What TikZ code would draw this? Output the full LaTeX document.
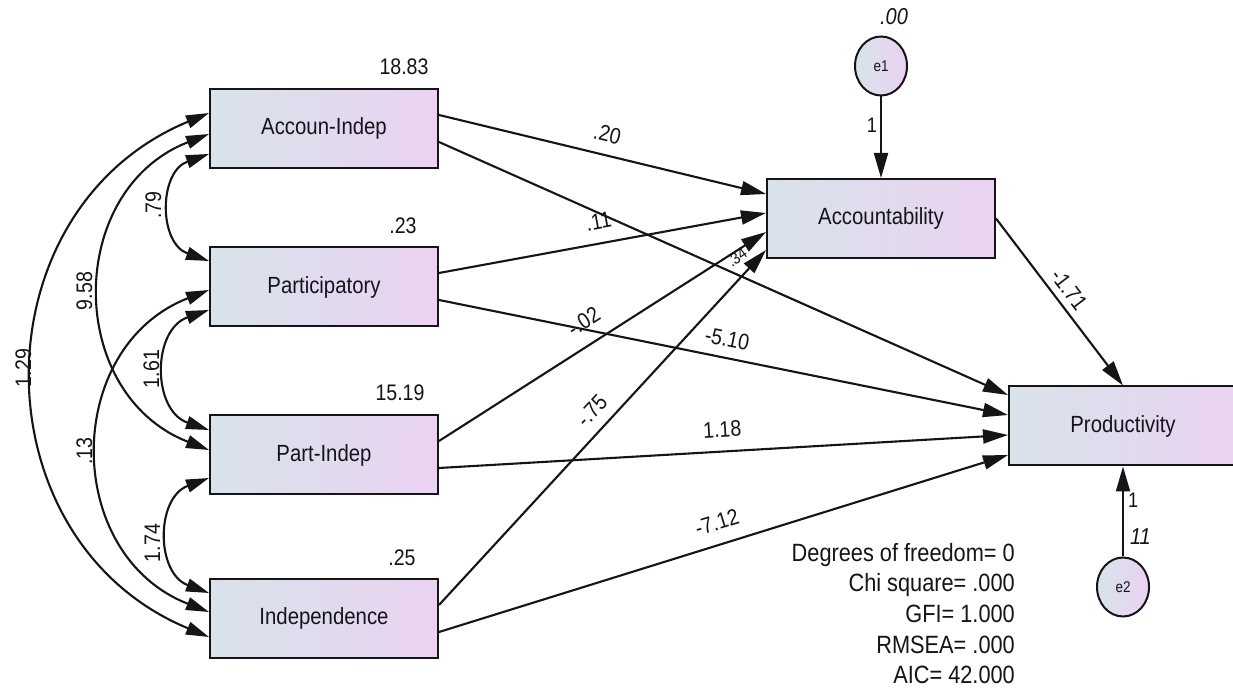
\documentclass[tikz,border=0pt]{standalone}
\usepackage{fontspec}
\setmainfont{Liberation Sans}[FakeStretch=0.87]
\usetikzlibrary{arrows.meta,shapes.geometric}
\definecolor{boxL}{RGB}{216,227,234}
\definecolor{boxR}{RGB}{234,210,241}
\definecolor{ink}{RGB}{20,20,25}
\begin{document}
\begin{tikzpicture}[x=1pt,y=1pt,
  varbox/.style={draw=ink,line width=2pt,left color=boxL,right color=boxR,minimum width=228pt,minimum height=79pt,inner sep=0pt,font=\fontsize{23.4}{28}\selectfont,text=ink},
  latent/.style={ellipse,draw=ink,line width=2pt,left color=boxL,right color=boxR,minimum width=52pt,minimum height=59pt,inner sep=0pt,font=\fontsize{15.5}{18}\selectfont,text=ink},
  num/.style={inner sep=0pt,font=\fontsize{22.5}{27}\selectfont,text height=16pt,text depth=0pt,text=ink},
  numit/.style={inner sep=0pt,font=\fontsize{23}{27}\selectfont\itshape,text height=16pt,text depth=0pt,text=ink},
  one/.style={inner sep=0pt,font=\fontsize{21}{25}\selectfont,text=ink},
  small/.style={inner sep=0pt,font=\fontsize{16.5}{19}\selectfont,text=ink},
  stat/.style={inner sep=0pt,anchor=base east,font=\fontsize{25}{30}\selectfont,text=ink},
  arr/.style={draw=ink,line width=2.1pt,-{Triangle[length=25pt,width=14pt]}},
  cov/.style={draw=ink,line width=2.1pt,{Triangle[length=23pt,width=13pt]}-{Triangle[length=23pt,width=13pt]}}
]
\useasboundingbox (0,0) rectangle (1233,693);
\fill[white] (0,0) rectangle (1233,693);

% observed variables
\node[varbox] (ai) at (324,564.5) {Accoun-Indep};
\node[varbox] (pa) at (324,406) {Participatory};
\node[varbox] (pi) at (324,238) {Part-Indep};
\node[varbox] (ind) at (324,74.5) {Independence};
\node[varbox] (acc) at (881,474.5) {Accountability};
\node[varbox] (prod) at (1123,267) {Productivity};
% error terms
\node[latent] (e1) at (881,627) {e1};
\node[latent] (e2) at (1123,106) {e2};

% variances
\node[num] (v1) at (404,626) {18.83};
\node[num] (v2) at (403,467) {.23};
\node[num] (v3) at (400,300) {15.19};
\node[num] (v4) at (402,135) {.25};
\node[numit] (v5) at (894,676) {.00};

% regression paths to Accountability
\draw[arr] ([yshift=13.5pt]ai.east) -- node[num,sloped,above=12pt] (w1) {.20} ([yshift=24.5pt]acc.west);
\draw[arr] ([yshift=14pt]pa.east) -- node[num,sloped,above=13pt] (w2) {.11} ([yshift=5.5pt]acc.west);
\draw[arr] ([yshift=14pt]pi.east) -- node[num,sloped,above=14pt,pos=0.48] (w3) {-.02} ([yshift=-13.5pt]acc.west);
\draw[arr] ([yshift=13.5pt]ind.east) -- node[num,sloped,above=10.5pt,pos=0.51] (w4) {-.75} ([yshift=-31.5pt]acc.west);
\node[small,rotate=35] (w5) at (737,436) {.34};

% regression paths to Productivity
\draw[arr] ([yshift=-13.5pt]ai.east) -- ([yshift=31pt]prod.west);
\draw[arr] ([yshift=-13pt]pa.east) -- node[num,sloped,above=10pt] (w6) {-5.10} ([yshift=11pt]prod.west);
\draw[arr] ([yshift=-13pt]pi.east) -- node[num,sloped,above=13.5pt] (w7) {1.18} ([yshift=-9pt]prod.west);
\draw[arr] ([yshift=-13.5pt]ind.east) -- node[num,sloped,above=13.5pt] (w8) {-7.12} ([yshift=-29pt]prod.west);
\draw[arr] (acc.east) -- node[num,sloped,above=6.5pt,pos=0.48] (w9) {-1.71} (prod.north);

% error paths
\draw[arr] (e1) -- node[one,left=3pt,pos=0.35] (f1) {1} (acc);
\draw[arr] (e2) -- node[one,right=4pt,pos=0.62] (f2) {1} node[numit,right=6pt,pos=0.22] (f3) {11} (prod);

% covariances
\draw[cov] ([yshift=-25.5pt]ai.west) .. controls +(199.3:53.6pt) and +(160.7:53.6pt) .. ([yshift=26pt]pa.west);
\draw[cov] ([yshift=-23pt]pa.west) .. controls +(198.9:60.4pt) and +(161.1:60.4pt) .. ([yshift=25pt]pi.west);
\draw[cov] ([yshift=-23pt]pi.west) .. controls +(200.3:56.9pt) and +(159.7:56.9pt) .. ([yshift=25.5pt]ind.west);
\draw[cov] ([yshift=-5.5pt]ai.west) .. controls +(201.3:154.5pt) and +(158.7:154.5pt) .. ([yshift=5pt]pi.west);
\draw[cov] ([yshift=-3pt]pa.west) .. controls +(201.3:157.5pt) and +(158.7:157.5pt) .. ([yshift=6.5pt]ind.west);
\draw[cov] ([yshift=15.5pt]ai.west) .. controls +(202.5:252.7pt) and +(157.5:252.7pt) .. ([yshift=-18.5pt]ind.west);

\node[num,rotate=90] (c1) at (153,488) {.79};
\node[num,rotate=90] (c2) at (151,324) {1.61};
\node[num,rotate=90] (c3) at (152,150) {1.74};
\node[num,rotate=90] (c4) at (84,402) {9.58};
\node[num,rotate=90] (c5) at (84,242) {.13};
\node[num,rotate=90] (c6) at (23,325) {1.29};

% fit statistics
\node[stat] (s1) at (1015,131.5) {Degrees of freedom= 0};
\node[stat] (s2) at (1015,101) {Chi square= .000};
\node[stat] (s3) at (1015,70.5) {GFI= 1.000};
\node[stat] (s4) at (1015,40) {RMSEA= .000};
\node[stat] (s5) at (1015,9.5) {AIC= 42.000};
\end{tikzpicture}
\end{document}
